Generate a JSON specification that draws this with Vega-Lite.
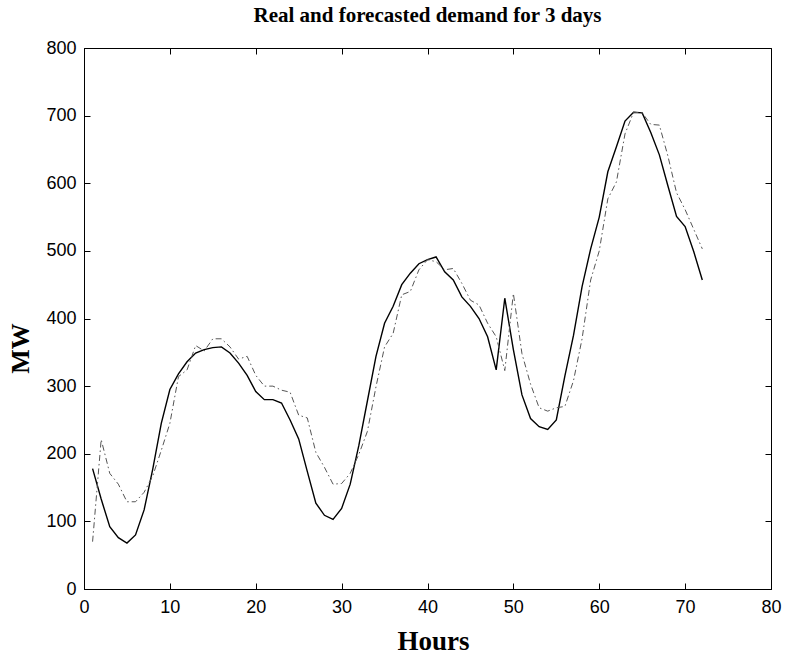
{
  "$schema": "https://vega.github.io/schema/vega-lite/v6.json",
  "width": 687,
  "height": 541,
  "autosize": {"type": "none"},
  "padding": {"left": 84, "top": 48, "right": 15, "bottom": 67},
  "background": "white",
  "title": {
    "text": "Real and forecasted demand for 3 days",
    "font": "Liberation Serif",
    "fontSize": 21,
    "fontWeight": "bold",
    "color": "black",
    "anchor": "middle",
    "offset": 13
  },
  "data": {
    "values": [
      {"hour": 1, "real": 178, "forecast": 70},
      {"hour": 2, "real": 133, "forecast": 221},
      {"hour": 3, "real": 92, "forecast": 171},
      {"hour": 4, "real": 76, "forecast": 155},
      {"hour": 5, "real": 68, "forecast": 129},
      {"hour": 6, "real": 80, "forecast": 129},
      {"hour": 7, "real": 117, "forecast": 143},
      {"hour": 8, "real": 177, "forecast": 167},
      {"hour": 9, "real": 245, "forecast": 205},
      {"hour": 10, "real": 295, "forecast": 245},
      {"hour": 11, "real": 318, "forecast": 314},
      {"hour": 12, "real": 336, "forecast": 324},
      {"hour": 13, "real": 349, "forecast": 360},
      {"hour": 14, "real": 354, "forecast": 352},
      {"hour": 15, "real": 357, "forecast": 370},
      {"hour": 16, "real": 358, "forecast": 370},
      {"hour": 17, "real": 349, "forecast": 358},
      {"hour": 18, "real": 334, "forecast": 340},
      {"hour": 19, "real": 316, "forecast": 344},
      {"hour": 20, "real": 292, "forecast": 316},
      {"hour": 21, "real": 280, "forecast": 300},
      {"hour": 22, "real": 280, "forecast": 300},
      {"hour": 23, "real": 275, "forecast": 294},
      {"hour": 24, "real": 250, "forecast": 291},
      {"hour": 25, "real": 222, "forecast": 257},
      {"hour": 26, "real": 174, "forecast": 253},
      {"hour": 27, "real": 127, "forecast": 202},
      {"hour": 28, "real": 109, "forecast": 180},
      {"hour": 29, "real": 103, "forecast": 155},
      {"hour": 30, "real": 119, "forecast": 156},
      {"hour": 31, "real": 155, "forecast": 171},
      {"hour": 32, "real": 212, "forecast": 199},
      {"hour": 33, "real": 278, "forecast": 233},
      {"hour": 34, "real": 344, "forecast": 299},
      {"hour": 35, "real": 393, "forecast": 358},
      {"hour": 36, "real": 418, "forecast": 378},
      {"hour": 37, "real": 450, "forecast": 435},
      {"hour": 38, "real": 467, "forecast": 440},
      {"hour": 39, "real": 481, "forecast": 472},
      {"hour": 40, "real": 487, "forecast": 487},
      {"hour": 41, "real": 491, "forecast": 484},
      {"hour": 42, "real": 469, "forecast": 472},
      {"hour": 43, "real": 457, "forecast": 474},
      {"hour": 44, "real": 432, "forecast": 452},
      {"hour": 45, "real": 418, "forecast": 427},
      {"hour": 46, "real": 400, "forecast": 420},
      {"hour": 47, "real": 373, "forecast": 393},
      {"hour": 48, "real": 324, "forecast": 373},
      {"hour": 49, "real": 430, "forecast": 323},
      {"hour": 50, "real": 354, "forecast": 437},
      {"hour": 51, "real": 287, "forecast": 348},
      {"hour": 52, "real": 252, "forecast": 303},
      {"hour": 53, "real": 240, "forecast": 268},
      {"hour": 54, "real": 236, "forecast": 263},
      {"hour": 55, "real": 250, "forecast": 268},
      {"hour": 56, "real": 315, "forecast": 270},
      {"hour": 57, "real": 375, "forecast": 308},
      {"hour": 58, "real": 447, "forecast": 370},
      {"hour": 59, "real": 503, "forecast": 457},
      {"hour": 60, "real": 550, "forecast": 500},
      {"hour": 61, "real": 617, "forecast": 577},
      {"hour": 62, "real": 654, "forecast": 602},
      {"hour": 63, "real": 692, "forecast": 673},
      {"hour": 64, "real": 705, "forecast": 705},
      {"hour": 65, "real": 704, "forecast": 704},
      {"hour": 66, "real": 675, "forecast": 687},
      {"hour": 67, "real": 642, "forecast": 686},
      {"hour": 68, "real": 596, "forecast": 640},
      {"hour": 69, "real": 551, "forecast": 586},
      {"hour": 70, "real": 536, "forecast": 561},
      {"hour": 71, "real": 499, "forecast": 532},
      {"hour": 72, "real": 457, "forecast": 503}
    ]
  },
  "config": {
    "view": {"stroke": "black", "strokeWidth": 1},
    "axis": {
      "grid": false,
      "domainColor": "black",
      "tickColor": "black",
      "tickSize": -6,
      "labelFont": "Liberation Sans",
      "labelFontSize": 18,
      "labelColor": "black",
      "titleFont": "Liberation Serif",
      "titleFontWeight": "bold",
      "titleColor": "black"
    }
  },
  "layer": [
    {
      "mark": {"type": "line", "color": "black", "strokeWidth": 1.4},
      "encoding": {
        "x": {
          "field": "hour", "type": "quantitative",
          "scale": {"domain": [0, 80], "nice": false},
          "axis": {"orient": "bottom", "values": [0,10,20,30,40,50,60,70,80], "title": "Hours", "titleFontSize": 27, "labelPadding": 15, "titlePadding": 12, "labelFlush": false, "titleX": 349}
        },
        "y": {
          "field": "real", "type": "quantitative",
          "scale": {"domain": [0, 800], "nice": false},
          "axis": {"orient": "left", "values": [0,100,200,300,400,500,600,700,800], "title": "MW", "titleFontSize": 26, "labelPadding": 14, "titlePadding": 12, "labelFlush": false, "titleY": 300}
        }
      }
    },
    {
      "mark": {"type": "line", "color": "#555555", "strokeWidth": 1, "strokeDash": [6, 3, 1.5, 3]},
      "encoding": {
        "x": {
          "field": "hour", "type": "quantitative",
          "scale": {"domain": [0, 80], "nice": false},
          "axis": {"orient": "top", "values": [0,10,20,30,40,50,60,70,80], "labels": false, "title": null, "domain": false}
        },
        "y": {
          "field": "forecast", "type": "quantitative",
          "scale": {"domain": [0, 800], "nice": false},
          "axis": {"orient": "right", "values": [0,100,200,300,400,500,600,700,800], "labels": false, "title": null, "domain": false}
        }
      }
    }
  ],
  "resolve": {"axis": {"x": "independent", "y": "independent"}}
}
